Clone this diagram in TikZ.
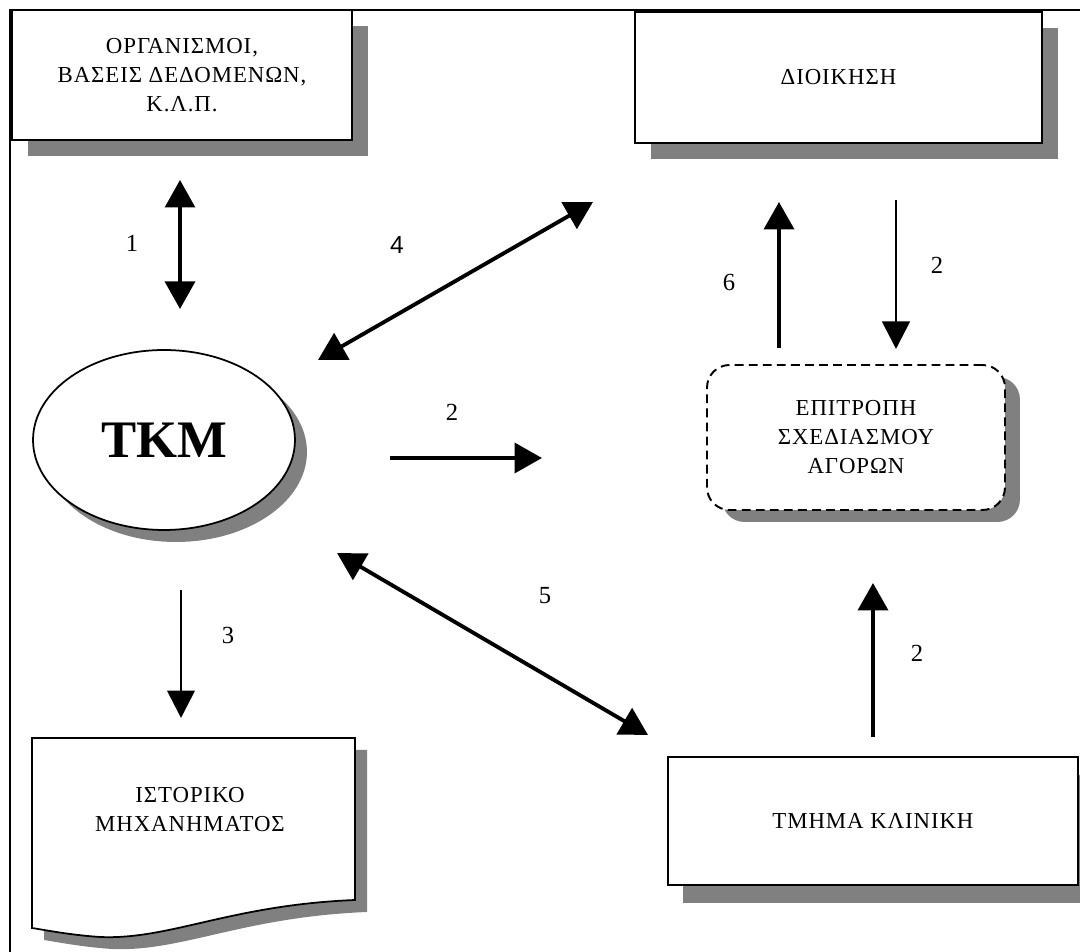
\documentclass[tikz,border=0pt]{standalone}
\usepackage{fontspec}
\setmainfont{Liberation Serif}
\newfontfamily\numsans{Liberation Sans}
\usetikzlibrary{arrows.meta,shapes.geometric,shadows}
\definecolor{shadowgray}{RGB}{128,128,128}
\begin{document}
\begin{tikzpicture}[x=0.02cm,y=-0.02cm,
  txt/.style={font=\fontsize{13}{16.5}\selectfont\addfontfeature{LetterSpace=4},align=center},
  boxnode/.style={draw=black,line width=1.1pt,fill=white,inner sep=0pt,txt},
  shad/.style={drop shadow={shadow xshift=#1,shadow yshift=-#1,fill=shadowgray,opacity=1}},
  thickarrow/.style={line width=2.2pt,-{Triangle[length=0.55cm,width=0.6cm]}},
  thinarrow/.style={line width=1.6pt,-{Triangle[length=0.55cm,width=0.55cm]}},
  dblarrow/.style={line width=2.2pt,{Triangle[length=0.55cm,width=0.6cm]}-{Triangle[length=0.55cm,width=0.6cm]}},
  numlabel/.style={font=\fontsize{14}{14}\selectfont}]
\useasboundingbox (0,0) rectangle (1080,952);
% outer frame
\coordinate (frameTL) at (10,10);
\coordinate (frameTR) at (1080,10);
\coordinate (frameBL) at (10,952);
\draw[line width=1.2pt] (frameTR) -- (frameTL) -- (frameBL);
% boxes
\node[boxnode,shad=0.32cm,minimum width=6.8cm,minimum height=2.6cm] (org) at (182,75)
  {ΟΡΓΑΝΙΣΜΟΙ,\\ΒΑΣΕΙΣ ΔΕΔΟΜΕΝΩΝ,\\Κ.Λ.Π.};
\node[boxnode,shad=0.32cm,minimum width=8.14cm,minimum height=2.62cm] (dioik) at (838.5,77.5)
  {ΔΙΟΙΚΗΣΗ};
\node[boxnode,dashed,dash pattern=on 5pt off 3pt,rounded corners=0.45cm,
  drop shadow={shadow xshift=0.3cm,shadow yshift=-0.24cm,fill=shadowgray,opacity=1},
  minimum width=5.96cm,minimum height=2.9cm] (epitr) at (856,437.5)
  {ΕΠΙΤΡΟΠΗ\\ΣΧΕΔΙΑΣΜΟΥ\\ΑΓΟΡΩΝ};
\node[boxnode,
  drop shadow={shadow xshift=0.3cm,shadow yshift=-0.36cm,fill=shadowgray,opacity=1},
  minimum width=8.2cm,minimum height=2.56cm] (tmima) at (873,821)
  {ΤΜΗΜΑ ΚΛΙΝΙΚΗ};
\node[ellipse,draw=black,line width=1pt,fill=white,inner sep=0pt,shad=0.24cm,
  minimum width=5.24cm,minimum height=3.6cm,font=\fontsize{30}{30}\selectfont\bfseries] (tkm) at (164,440) {ΤΚΜ};
% document shape
\fill[shadowgray] (44,750) -- (367,750) -- (367,912)
  .. controls (242,917) and (182,952) .. (112,949)
  .. controls (82,947) and (57,942) .. (44,940) -- cycle;
\draw[line width=1pt,fill=white] (32,738) -- (355,738) -- (355,900)
  .. controls (230,905) and (170,940) .. (100,937)
  .. controls (70,935) and (45,930) .. (32,928) -- cycle;
\node[txt] (istor) at (190,810) {ΙΣΤΟΡΙΚΟ\\ΜΗΧΑΝΗΜΑΤΟΣ};
% arrow end points
\coordinate (a1t) at (180,180);
\coordinate (a1b) at (180,309);
\coordinate (a4t) at (593,202);
\coordinate (a4b) at (318,360);
\coordinate (a6b) at (779,348);
\coordinate (a6t) at (779,202);
\coordinate (a2dt) at (896,200);
\coordinate (a2db) at (896,349);
\coordinate (a2hl) at (390,458);
\coordinate (a2hr) at (542,458);
\coordinate (a3t) at (181,590);
\coordinate (a3b) at (181,718);
\coordinate (a5t) at (337,553);
\coordinate (a5b) at (648,735);
\coordinate (a2ub) at (873,737);
\coordinate (a2ut) at (873,583);
% arrows
\draw[dblarrow,line width=1.8pt] (a1t) -- (a1b);
\draw[dblarrow] (a4b) -- (a4t);
\draw[thickarrow] (a6b) -- (a6t);
\draw[thinarrow] (a2dt) -- (a2db);
\draw[thickarrow] (a2hl) -- (a2hr);
\draw[thinarrow] (a3t) -- (a3b);
\draw[dblarrow] (a5t) -- (a5b);
\draw[thickarrow] (a2ub) -- (a2ut);
% labels
\node[numlabel] (l1) at (132,243) {1};
\node[numlabel,font=\numsans\fontsize{14}{14}\selectfont] (l4) at (397,245) {4};
\node[numlabel] (l6) at (729,282) {6};
\node[numlabel] (l2a) at (937,265) {2};
\node[numlabel] (l2b) at (452,412) {2};
\node[numlabel] (l3) at (228,635) {3};
\node[numlabel] (l5) at (545,596) {5};
\node[numlabel] (l2c) at (917,653) {2};
\end{tikzpicture}
\end{document}
